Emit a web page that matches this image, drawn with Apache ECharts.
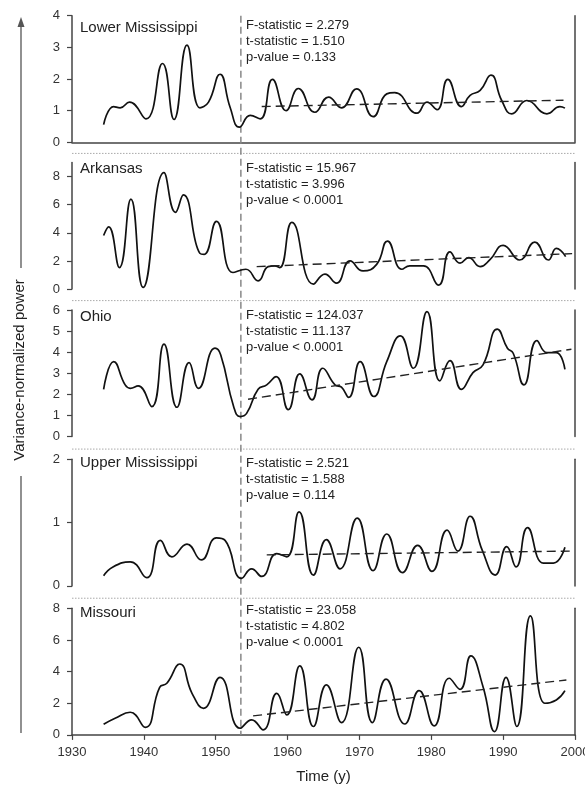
<!DOCTYPE html>
<html>
<head>
<meta charset="utf-8">
<script src="https://cdn.jsdelivr.net/npm/echarts@6/dist/echarts.min.js"></script>
<style>
    html, body {margin: 0; padding: 0; background: #fff;}
    #chart {width: 585px; height: 785px;}
</style>
</head>
<body>
<div id="chart"></div>
<script>
// panel names and regression stats
const panelNames = ['Lower Mississippi', 'Arkansas', 'Ohio', 'Upper Mississippi', 'Missouri'];
const statTexts = [
    ['F-statistic = 2.279', 't-statistic = 1.510', 'p-value = 0.133'],
    ['F-statistic = 15.967', 't-statistic = 3.996', 'p-value < 0.0001'],
    ['F-statistic = 124.037', 't-statistic = 11.137', 'p-value < 0.0001'],
    ['F-statistic = 2.521', 't-statistic = 1.588', 'p-value = 0.114'],
    ['F-statistic = 23.058', 't-statistic = 4.802', 'p-value < 0.0001']
];
const yMax = [4, 9, 6, 2, 8];
const yInterval = [1, 2, 1, 1, 2];
const yTicks = [[0, 1, 2, 3, 4], [0, 2, 4, 6, 8], [0, 1, 2, 3, 4, 5, 6], [0, 1, 2], [0, 2, 4, 6, 8]];
const xTicks = [1930, 1940, 1950, 1960, 1970, 1980, 1990, 2000];
const breakYear = 1953.5;

// Lower Mississippi
const lowerMissYears = [1934.4, 1935.8, 1936.7, 1938.0, 1940.3, 1942.6, 1944.2, 1946.0, 1947.8, 1949.0, 1950.6, 1952.0, 1953.3, 1954.8, 1956.2, 1957.9, 1959.8, 1961.5, 1963.8, 1965.7, 1967.5, 1969.6, 1971.9, 1973.8, 1974.9, 1978.0, 1979.4, 1980.8, 1982.3, 1984.2, 1985.4, 1986.8, 1988.3, 1989.8, 1991.2, 1993.3, 1996.1, 1997.9, 1998.6];
const lowerMissPower = [0.56, 1.13, 1.09, 1.27, 0.74, 2.49, 0.72, 3.07, 1.09, 1.27, 2.15, 1.11, 0.48, 0.85, 0.74, 1.99, 1.0, 1.7, 0.95, 1.43, 1.09, 1.69, 0.81, 1.53, 1.57, 0.92, 1.27, 1.03, 1.99, 1.13, 1.48, 1.64, 2.12, 1.32, 0.9, 1.32, 0.9, 1.13, 1.08];
const lowerMissTrend = [[1956.4, 1.13], [1998.4, 1.33]];

// Arkansas
const arkansasYears = [1934.4, 1935.1, 1936.6, 1938.2, 1939.9, 1942.8, 1944.4, 1945.5, 1947.8, 1948.4, 1950.1, 1952.4, 1954.2, 1955.9, 1957.3, 1958.2, 1958.9, 1960.6, 1963.6, 1965.2, 1966.8, 1968.7, 1970.5, 1972.4, 1973.9, 1975.9, 1977.0, 1978.9, 1981.0, 1982.6, 1984.0, 1985.2, 1986.8, 1988.2, 1990.0, 1992.3, 1994.4, 1996.3, 1997.4, 1998.7];
const arkansasPower = [3.81, 4.42, 1.53, 6.4, 0.12, 8.28, 5.46, 6.7, 2.54, 2.47, 4.82, 1.18, 1.41, 0.59, 1.6, 1.65, 1.53, 4.75, 0.35, 1.06, 0.42, 2.0, 1.29, 1.76, 3.41, 1.41, 1.65, 1.65, 0.28, 2.64, 1.84, 2.24, 1.6, 2.12, 3.11, 2.07, 3.34, 2.07, 2.89, 2.31];
const arkansasTrend = [[1955.7, 1.6], [1999.6, 2.52]];

// Ohio
const ohioYears = [1934.4, 1935.8, 1937.4, 1938.1, 1939.2, 1941.1, 1942.8, 1944.6, 1946.3, 1947.6, 1949.9, 1950.7, 1952.5, 1953.4, 1954.3, 1955.9, 1957.1, 1958.4, 1960.1, 1961.7, 1963.4, 1964.9, 1966.6, 1967.5, 1968.5, 1970.1, 1972.0, 1973.8, 1975.7, 1977.5, 1979.4, 1981.2, 1982.6, 1984.2, 1985.8, 1987.2, 1989.2, 1990.6, 1991.4, 1992.9, 1994.7, 1996.1, 1997.4, 1998.6];
const ohioPower = [2.24, 3.55, 2.45, 2.29, 2.4, 1.42, 4.38, 1.39, 3.51, 2.29, 4.19, 3.87, 1.42, 0.95, 1.1, 2.24, 2.45, 2.84, 1.28, 2.97, 1.74, 3.24, 2.45, 2.34, 1.86, 3.55, 1.9, 3.55, 4.77, 3.24, 5.92, 2.64, 3.6, 2.24, 3.03, 3.4, 5.09, 4.19, 3.95, 2.45, 4.55, 3.98, 3.98, 3.19];
const ohioTrend = [[1954.5, 1.77], [1999.5, 4.14]];

// Upper Mississippi
const upperMissYears = [1934.4, 1935.7, 1938.1, 1940.4, 1942.3, 1943.9, 1946.0, 1948.0, 1950.1, 1951.3, 1953.6, 1955.0, 1956.4, 1958.5, 1959.9, 1961.6, 1963.6, 1965.4, 1967.3, 1969.7, 1971.9, 1973.8, 1976.0, 1978.1, 1980.1, 1982.2, 1983.7, 1985.4, 1987.1, 1988.9, 1990.5, 1991.8, 1993.4, 1995.6, 1997.0, 1998.6];
const upperMissPower = [0.16, 0.3, 0.38, 0.13, 0.72, 0.46, 0.66, 0.41, 0.76, 0.72, 0.12, 0.27, 0.15, 0.51, 0.46, 1.17, 0.17, 0.73, 0.27, 1.07, 0.24, 0.82, 0.21, 0.64, 0.23, 0.88, 0.55, 1.1, 0.56, 0.17, 0.62, 0.3, 0.92, 0.36, 0.36, 0.61];
const upperMissTrend = [[1957.1, 0.49], [1999.3, 0.55]];

// Missouri
const missouriYears = [1934.4, 1936.0, 1938.1, 1940.2, 1942.2, 1943.2, 1945.0, 1946.7, 1948.3, 1950.6, 1953.4, 1955.0, 1956.6, 1958.5, 1959.9, 1961.7, 1963.6, 1965.4, 1967.5, 1969.9, 1971.8, 1973.7, 1976.3, 1978.3, 1980.4, 1982.5, 1984.0, 1985.5, 1987.2, 1988.8, 1990.4, 1991.9, 1993.8, 1995.8, 1997.4, 1998.6];
const missouriPower = [0.67, 1.05, 1.43, 0.48, 3.01, 3.26, 4.48, 2.63, 1.68, 3.64, 0.42, 0.95, 0.32, 2.63, 1.26, 4.36, 0.53, 3.16, 0.78, 5.54, 0.78, 3.52, 0.69, 2.8, 0.57, 3.58, 2.88, 4.99, 3.05, 0.21, 3.64, 0.53, 7.52, 2.0, 2.21, 2.8];
const missouriTrend = [[1955.2, 1.2], [1998.8, 3.47]];

const panelYears = [lowerMissYears, arkansasYears, ohioYears, upperMissYears, missouriYears];
const panelPower = [lowerMissPower, arkansasPower, ohioPower, upperMissPower, missouriPower];
const panelTrend = [lowerMissTrend, arkansasTrend, ohioTrend, upperMissTrend, missouriTrend];

const gridTops = [15.7, 162.5, 310, 459.3, 608.3];
const gridHeight = 126.6;
const font = 'Liberation Sans, Arial, sans-serif';
const axisColor = '#444';

let chart = echarts.init(document.getElementById('chart'));

let grids = [], xAxes = [], yAxes = [], series = [];
for (let i = 0; i < 5; i++) {
    const last = i === 4;
    grids.push({left: 72, right: 10, top: gridTops[i], height: gridHeight, outerBoundsMode: 'none', containLabel: false});
    xAxes.push({
        type: 'value', gridIndex: i, min: 1930, max: 2000, interval: 10,
        show: last,
        axisLine: {show: true, lineStyle: {color: axisColor, width: 1.5}},
        axisTick: {show: true, length: 5, lineStyle: {color: axisColor, width: 1.2}},
        axisLabel: {show: true, margin: 11, fontSize: 13, color: '#333', fontFamily: font,
            formatter: v => String(v), hideOverlap: false},
        splitLine: {show: false},
        name: last ? 'Time (y)' : '', nameLocation: 'middle', nameGap: 34,
        nameTextStyle: {fontSize: 15, color: '#222', fontFamily: font}
    });
    // top border only for the first panel
    xAxes.push({
        type: 'value', gridIndex: i, min: 1930, max: 2000, position: 'top',
        show: i === 0,
        axisLine: {show: true, lineStyle: {color: axisColor, width: 1.5}},
        axisTick: {show: false}, axisLabel: {show: false}, splitLine: {show: false}
    });
    yAxes.push({
        type: 'value', gridIndex: i, min: 0, max: yMax[i], interval: yInterval[i],
        axisLine: {show: true, lineStyle: {color: axisColor, width: 1.5}},
        axisTick: {show: true, length: 5, customValues: yTicks[i], lineStyle: {color: axisColor, width: 1.2}},
        axisLabel: {margin: 12, fontSize: 13, color: '#333', fontFamily: font, customValues: yTicks[i]},
        splitLine: {show: false}
    });
    yAxes.push({
        type: 'value', gridIndex: i, min: 0, max: yMax[i], position: 'right',
        axisLine: {show: true, lineStyle: {color: axisColor, width: 1.5}},
        axisTick: {show: false}, axisLabel: {show: false}, splitLine: {show: false}
    });
    series.push({
        type: 'line', xAxisIndex: i * 2, yAxisIndex: i * 2,
        data: panelYears[i].map((yr, k) => [yr, panelPower[i][k]]),
        smooth: 0.5, showSymbol: false, silent: true,
        lineStyle: {color: '#111', width: 1.7}
    });
    series.push({
        type: 'line', xAxisIndex: i * 2, yAxisIndex: i * 2,
        data: panelTrend[i], showSymbol: false, silent: true,
        lineStyle: {color: '#222', width: 1.4, type: [9, 5]}
    });
}

chart.setOption({
    animation: false,
    grid: grids,
    xAxis: xAxes,
    yAxis: yAxes,
    series: series
});

// decorations positioned from the axes
let graphics = [];
const topPx = chart.convertToPixel({gridIndex: 0}, [breakYear, yMax[0]]);
const botPx = chart.convertToPixel({gridIndex: 4}, [breakYear, 0]);
graphics.push({
    type: 'line', z: 1, silent: true,
    shape: {x1: topPx[0], y1: topPx[1], x2: botPx[0], y2: botPx[1]},
    style: {stroke: '#888', lineWidth: 1.5, lineDash: [7, 4]}
});
for (let i = 0; i < 4; i++) {
    const a = chart.convertToPixel({gridIndex: i}, [1930, 0]);
    const b = chart.convertToPixel({gridIndex: i}, [2000, 0]);
    const c = chart.convertToPixel({gridIndex: i + 1}, [1930, yMax[i + 1]]);
    const sepY = a[1] + (c[1] - a[1]) * 0.55;
    graphics.push({
        type: 'line', silent: true,
        shape: {x1: a[0], y1: sepY, x2: b[0], y2: sepY},
        style: {stroke: '#aaa', lineWidth: 1, lineDash: [1.5, 1.5]}
    });
}
const nameY = [29.3, 170.7, 318.3, 464, 614];
const statY = [25, 168, 315.7, 463.3, 610.7];
for (let i = 0; i < 5; i++) {
    graphics.push({
        type: 'text', left: 80, top: nameY[i] - 9,
        style: {text: panelNames[i], fontSize: 15, fill: '#222', fontFamily: font}
    });
    graphics.push({
        type: 'text', left: 246, top: statY[i] - 8,
        style: {text: statTexts[i].join('\n'), fontSize: 13, lineHeight: 16, fill: '#222', fontFamily: font}
    });
}
// y axis title with arrow lines
graphics.push({
    type: 'text', x: 20, y: 370, rotation: Math.PI / 2,
    style: {text: 'Variance-normalized power', fontSize: 15, fill: '#222', fontFamily: font,
        textAlign: 'center', textVerticalAlign: 'middle'}
});
graphics.push({
    type: 'line', silent: true, shape: {x1: 21, y1: 268, x2: 21, y2: 24},
    style: {stroke: '#555', lineWidth: 1.3}
});
graphics.push({
    type: 'polygon', silent: true, shape: {points: [[21, 17], [17.5, 27], [24.5, 27]]},
    style: {fill: '#555'}
});
graphics.push({
    type: 'line', silent: true, shape: {x1: 21, y1: 476, x2: 21, y2: 733},
    style: {stroke: '#555', lineWidth: 1.3}
});

chart.setOption({graphic: graphics});
</script>
</body>
</html>
